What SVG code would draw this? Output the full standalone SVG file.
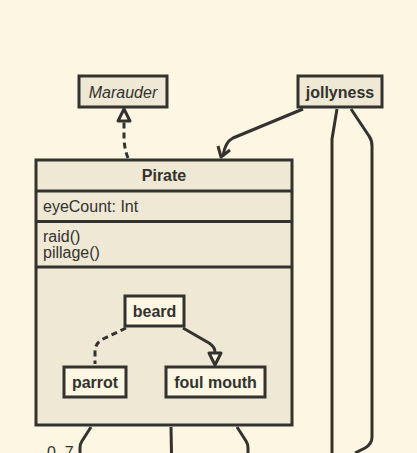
<svg xmlns="http://www.w3.org/2000/svg" width="417" height="453" viewBox="0 0 417 453">
<style>
.box{fill:#eee8d5;stroke:#33322e;stroke-width:3}
.inner{fill:#fdf6e3;stroke:#33322e;stroke-width:3}
.t{font-family:"Liberation Sans",Arial,sans-serif;font-size:16px;fill:#33322e}
.b{font-weight:bold}
.c{text-anchor:middle}
.ln{fill:none;stroke:#33322e;stroke-width:3;stroke-linejoin:round}
.dash{stroke-dasharray:6 4}
.head{fill:#fdf6e3;stroke:#33322e;stroke-width:3;stroke-linejoin:round}
</style>
<rect width="417" height="453" fill="#fdf6e3"/>
<g id="marauder">
<rect class="box" x="79" y="76" width="88" height="31"/>
<text class="t c" x="123" y="98" font-style="italic">Marauder</text>
</g>
<g id="jollyness">
<rect class="box" x="298" y="76" width="84" height="31"/>
<text class="t b c" x="340" y="98">jollyness</text>
</g>
<g id="pirate">
<rect class="box" x="36" y="160" width="256" height="265"/>
<line class="ln" x1="36" y1="191" x2="292" y2="191"/>
<line class="ln" x1="36" y1="221.5" x2="292" y2="221.5"/>
<line class="ln" x1="36" y1="267" x2="292" y2="267"/>
<text class="t b c" x="164" y="181">Pirate</text>
<text class="t" x="43" y="212">eyeCount: Int</text>
<text class="t" x="43" y="242">raid()</text>
<text class="t" x="43" y="258">pillage()</text>
</g>
<g id="beard">
<rect class="inner" x="125" y="296" width="59" height="30"/>
<text class="t b c" x="154.5" y="317">beard</text>
</g>
<g id="parrot">
<rect class="inner" x="64" y="367" width="62" height="30"/>
<text class="t b c" x="95" y="388">parrot</text>
</g>
<g id="foulmouth">
<rect class="inner" x="166" y="367" width="99" height="30"/>
<text class="t b c" x="215.5" y="388">foul mouth</text>
</g>
<g id="connectors">
<path class="ln dash" d="M128,158 Q124,148 124,136 L124,122"/>
<polygon class="head" points="124,109 118,121 130,121"/>
<path class="ln" d="M303,109 L233,138 Q225,142 223,156"/>
<polyline class="ln" points="218,146 221,157 230,150"/>
<path class="ln" d="M337,109 L332,139 L332,453"/>
<path class="ln" d="M351,109 L369,136 Q372,140 372,146 L372,437 Q372,444 365,448 L355,453"/>
<path class="ln" d="M91,427 L82,441 Q80,444 80,448 L80,453"/>
<path class="ln" d="M171,427 L171.5,453"/>
<path class="ln" d="M237,427 L246,441 Q248,444 248,448 L248,453"/>
<path class="ln dash" d="M126,328 L103,339 Q95,343 95,352 L95,364"/>
<path class="ln" d="M183,328 L209,343 Q215,347 215,352"/>
<polygon class="head" points="209,353 221,353 215,365"/>
</g>
<text class="t" x="47" y="458" fill="#33322e">0..7</text>
</svg>
